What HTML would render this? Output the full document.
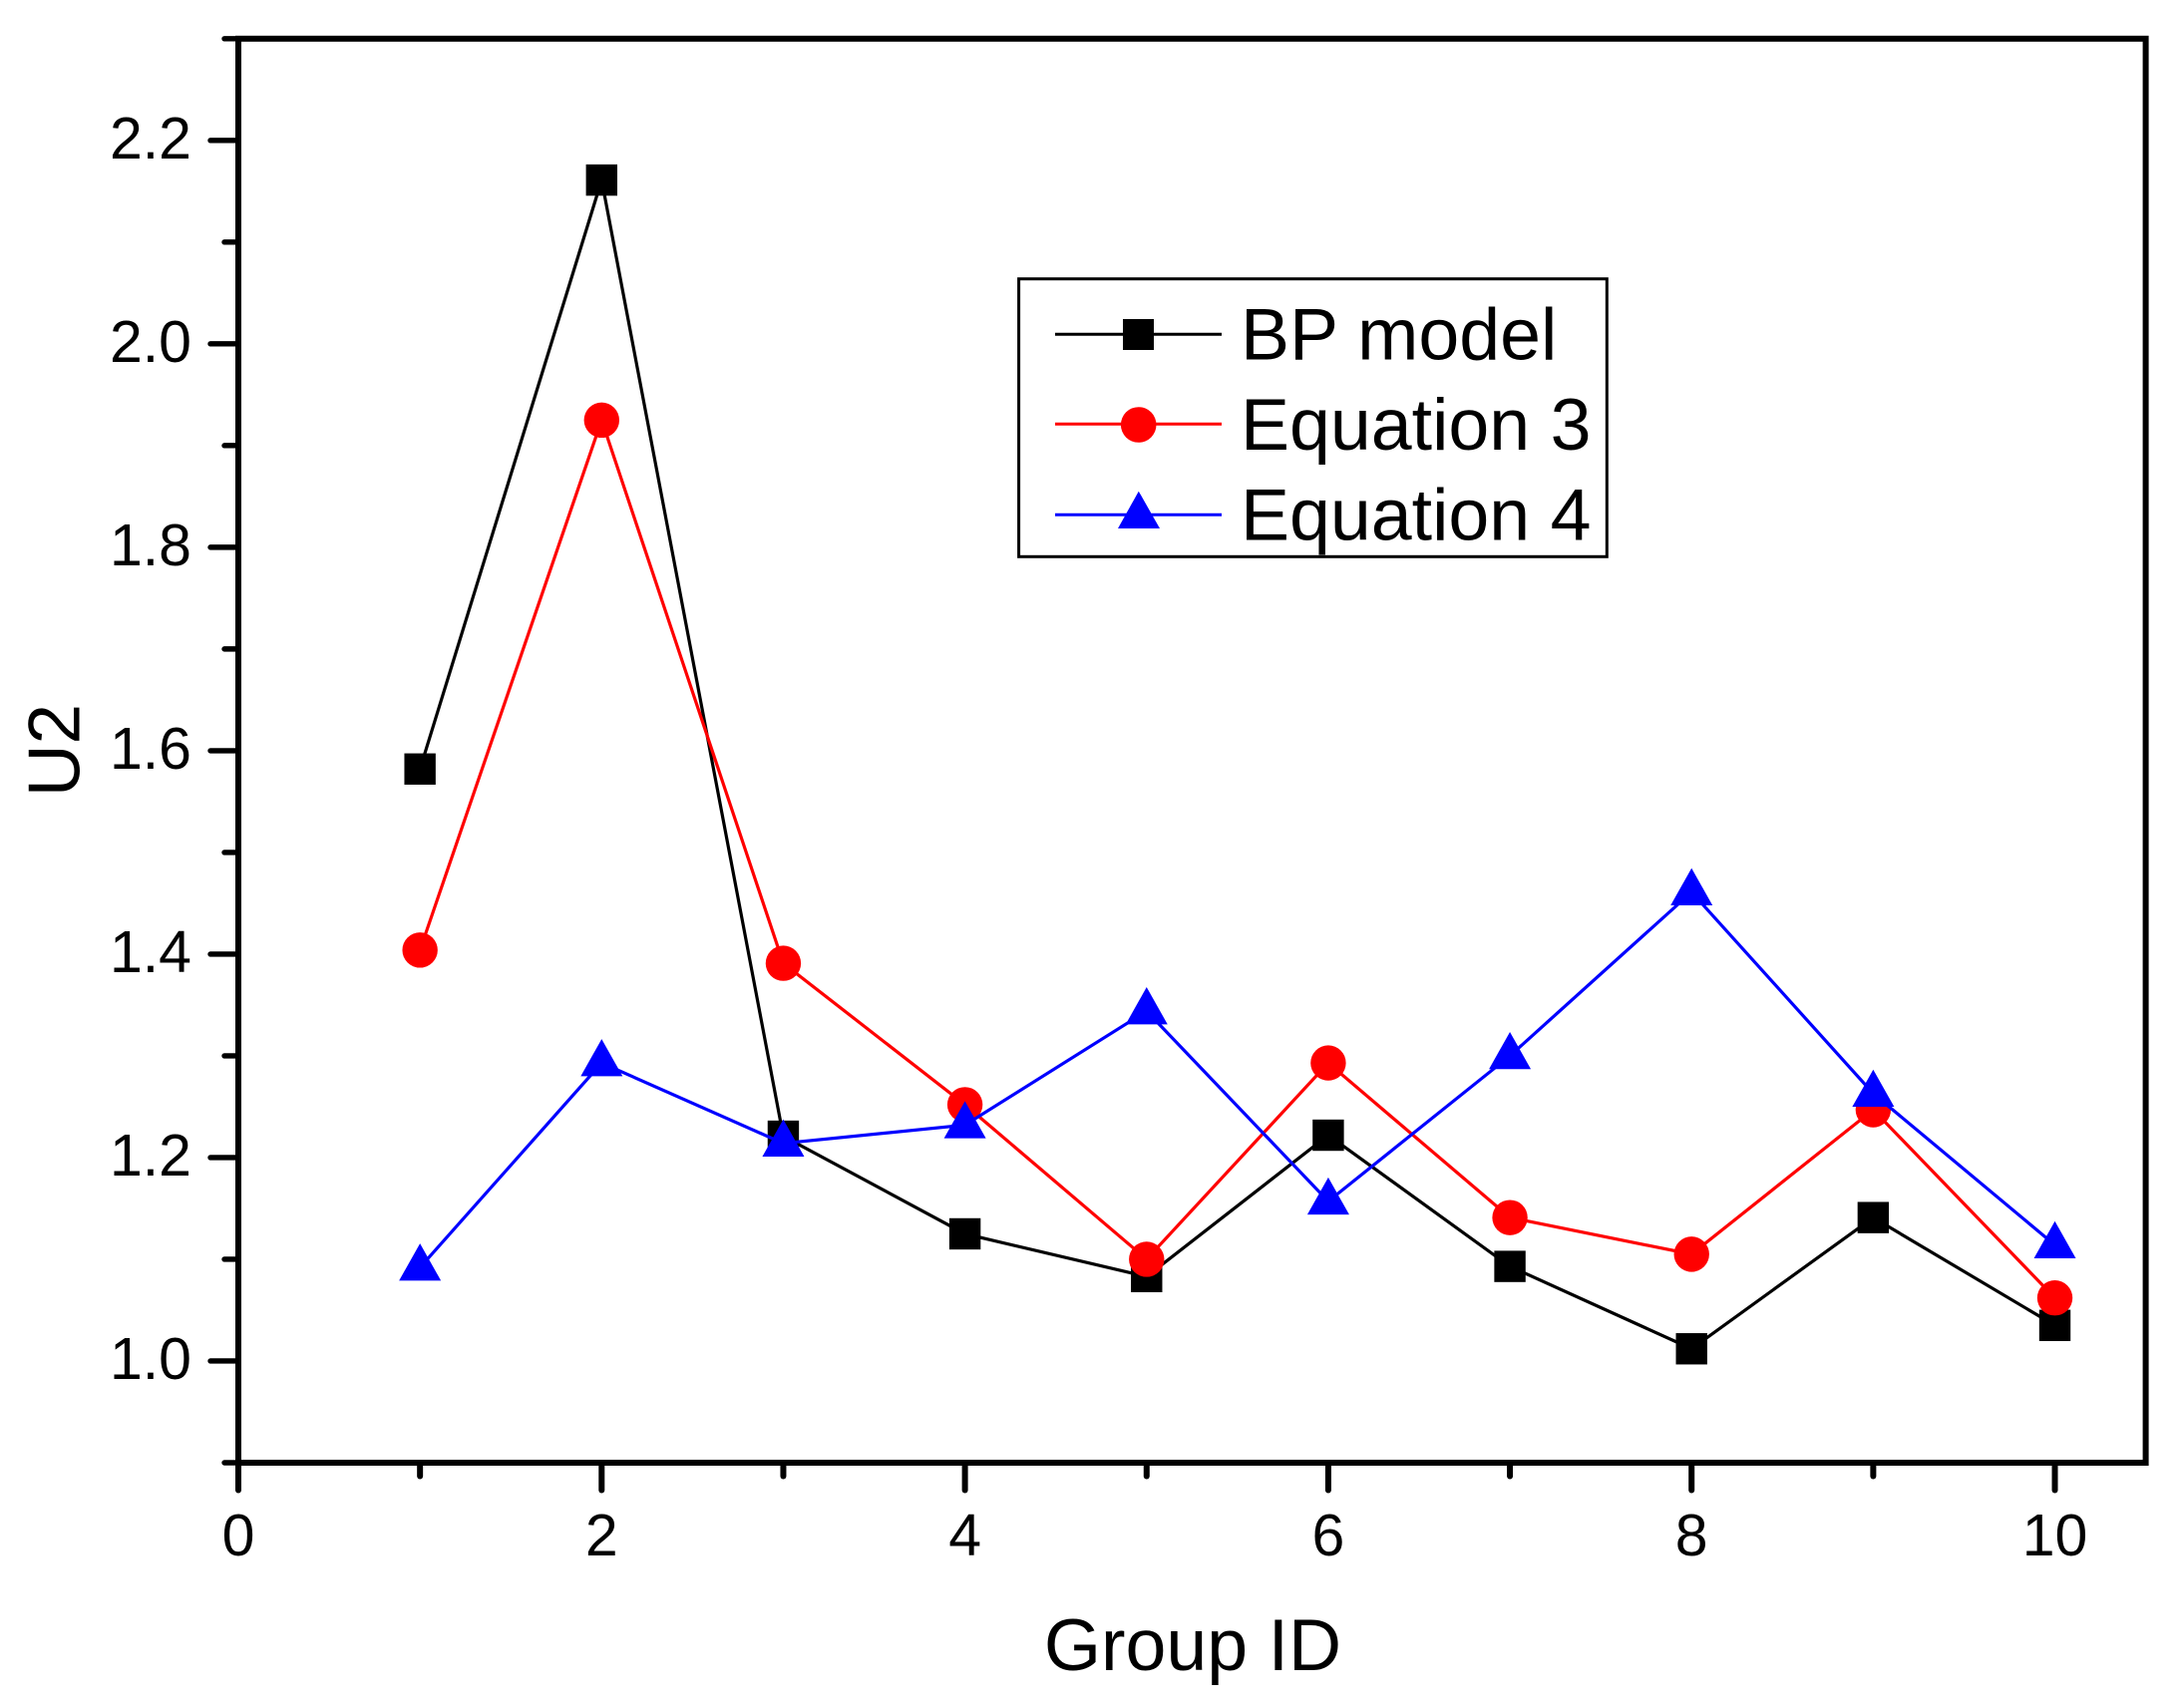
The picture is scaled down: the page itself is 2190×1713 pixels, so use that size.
<!DOCTYPE html>
<html lang="en">
<head>
<meta charset="utf-8">
<title>U2 by Group ID</title>
<style>
html,body{margin:0;padding:0;background:#fff;width:2190px;height:1713px;overflow:hidden}
svg{display:block}
text{font-family:"Liberation Sans",Arial,sans-serif;fill:#000}
</style>
</head>
<body>
<svg id="chart" width="2190" height="1713" viewBox="0 0 2190 1713" xmlns="http://www.w3.org/2000/svg">
  <rect x="0" y="0" width="2190" height="1713" fill="#fff"/>
  <g id="series-layer"></g>
  <g id="axes-layer"></g>
  <text transform="translate(79.5 752.5) rotate(-90)" text-anchor="middle" font-size="73">U2</text>
  <text x="1196" y="1675" text-anchor="middle" font-size="73.5">Group ID</text>
  <g>
    <rect x="1021.6" y="279.7" width="589.7" height="278.6" fill="none" stroke="#000" stroke-width="3"/>
    <g>
      <line x1="1058" y1="335.3" x2="1225" y2="335.3" stroke="#000" stroke-width="3"/>
      <rect x="1126" y="320" width="31" height="31" fill="#000"/>
      <text x="1244" y="360.3" font-size="73.5">BP model</text>
    </g>
    <g>
      <line x1="1058" y1="425.3" x2="1225" y2="425.3" stroke="#f00" stroke-width="3"/>
      <circle cx="1141.7" cy="426" r="17.8" fill="#f00"/>
      <text x="1244" y="451" font-size="73.5">Equation 3</text>
    </g>
    <g>
      <line x1="1058" y1="516.3" x2="1225" y2="516.3" stroke="#00f" stroke-width="3"/>
      <polygon points="1141.8,492.7 1163,530 1121,530" fill="#00f"/>
      <text x="1244" y="541.7" font-size="73.5">Equation 4</text>
    </g>
  </g>
</svg>
<script>
const groupIds = [1, 2, 3, 4, 5, 6, 7, 8, 9, 10];
const bpModel = [1.582, 2.161, 1.221, 1.125, 1.083, 1.222, 1.093, 1.012, 1.141, 1.035];
const equation3 = [1.404, 1.925, 1.391, 1.252, 1.100, 1.293, 1.141, 1.105, 1.247, 1.062];
const equation4 = [1.092, 1.293, 1.214, 1.232, 1.344, 1.157, 1.300, 1.461, 1.263, 1.114];
const xMajorTicks = [0, 2, 4, 6, 8, 10];
const xMinorTicks = [1, 3, 5, 7, 9];
const yMajorTicks = [1.0, 1.2, 1.4, 1.6, 1.8, 2.0, 2.2];
const yMinorTicks = [0.9, 1.1, 1.3, 1.5, 1.7, 1.9, 2.1, 2.3];

const NS = 'http://www.w3.org/2000/svg';
const xMin = 0, xMax = 10.5, yMin = 0.9, yMax = 2.3;
const plotLeft = 239, plotRight = 2151.6, plotTop = 38.8, plotBottom = 1467;

function xScale(v) { return plotLeft + (v - xMin) / (xMax - xMin) * (plotRight - plotLeft); }
function yScale(v) { return plotBottom - (v - yMin) / (yMax - yMin) * (plotBottom - plotTop); }
function make(tag, parent) {
  const el = document.createElementNS(NS, tag);
  parent.appendChild(el);
  return el;
}
function setLine(el, x1, y1, x2, y2, width, color) {
  el.setAttribute('x1', x1);
  el.setAttribute('y1', y1);
  el.setAttribute('x2', x2);
  el.setAttribute('y2', y2);
  el.setAttribute('stroke', color);
  el.setAttribute('stroke-width', width);
  el.setAttribute('stroke-linecap', 'round');
}

const seriesLayer = document.getElementById('series-layer');
const axesLayer = document.getElementById('axes-layer');

function drawSeries(values, color, kind, label) {
  const group = make('g', seriesLayer);
  
  
  const path = make('polyline', group);
  
  
  path.setAttribute('fill', 'none');
  path.setAttribute('stroke', color);
  path.setAttribute('stroke-width', '3.2');
  path.setAttribute('points', values.map((v, i) => xScale(groupIds[i]) + ',' + yScale(v)).join(' '));
  values.forEach((v, i) => {
    const cx = xScale(groupIds[i]);
    const cy = yScale(v);
    let mark;
    if (kind === 'square') {
      mark = make('rect', group);
      mark.setAttribute('x', cx - 15.7);
      mark.setAttribute('y', cy - 15.7);
      mark.setAttribute('width', 31.4);
      mark.setAttribute('height', 31.4);
    } else if (kind === 'circle') {
      mark = make('circle', group);
      mark.setAttribute('cx', cx);
      mark.setAttribute('cy', cy);
      mark.setAttribute('r', 17.7);
    } else {
      mark = make('polygon', group);
      mark.setAttribute('points', cx + ',' + (cy - 24) + ' ' + (cx + 21) + ',' + (cy + 13.3) + ' ' + (cx - 21) + ',' + (cy + 13.3));
    }
    mark.setAttribute('fill', color);
    
    
  });
}
drawSeries(bpModel, '#000', 'square', 'bp-model');
drawSeries(equation3, '#f00', 'circle', 'equation-3');
drawSeries(equation4, '#00f', 'triangle', 'equation-4');

xMajorTicks.forEach(v => {
  const t = make('line', axesLayer);
  
  
  setLine(t, xScale(v), plotBottom, xScale(v), 1494.5, 6, '#000');
  const label = make('text', axesLayer);
  
  
  label.setAttribute('x', xScale(v));
  label.setAttribute('y', 1560);
  label.setAttribute('text-anchor', 'middle');
  label.setAttribute('font-size', '59');
  label.textContent = String(v);
});
xMinorTicks.forEach(v => {
  const t = make('line', axesLayer);
  
  
  setLine(t, xScale(v), plotBottom, xScale(v), 1480.5, 6, '#000');
});
yMajorTicks.forEach(v => {
  const t = make('line', axesLayer);
  
  
  setLine(t, 211, yScale(v), plotLeft, yScale(v), 5.4, '#000');
  const label = make('text', axesLayer);
  
  
  label.setAttribute('x', 192);
  label.setAttribute('y', yScale(v) + 18);
  label.setAttribute('text-anchor', 'end');
  label.setAttribute('font-size', '59');
  label.textContent = v.toFixed(1);
});
yMinorTicks.forEach(v => {
  const t = make('line', axesLayer);
  
  
  setLine(t, 225, yScale(v), plotLeft, yScale(v), 5.4, '#000');
});

const frame = make('rect', axesLayer);


frame.setAttribute('x', plotLeft);
frame.setAttribute('y', plotTop);
frame.setAttribute('width', plotRight - plotLeft);
frame.setAttribute('height', plotBottom - plotTop);
frame.setAttribute('fill', 'none');
frame.setAttribute('stroke', '#000');
frame.setAttribute('stroke-width', '6');
</script>
</body>
</html>
